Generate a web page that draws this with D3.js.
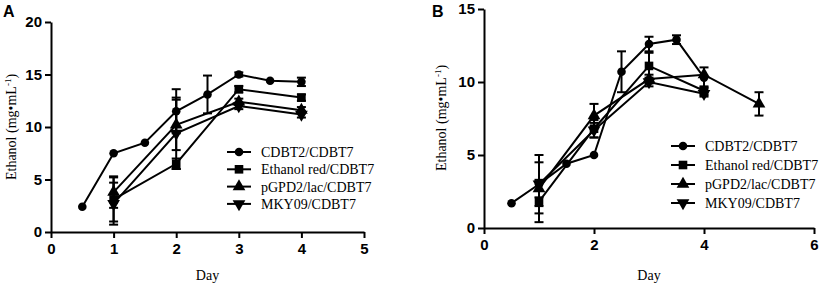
<!DOCTYPE html>
<html>
<head>
<meta charset="utf-8">
<script src="https://cdn.jsdelivr.net/npm/d3@7"></script>
<style>
  body { margin: 0; background: #fff; }
  svg { display: block; }
</style>
</head>
<body>
<div id="chart"></div>
<script>
var width = 829, height = 284;

var seriesNames = ["CDBT2/CDBT7", "Ethanol red/CDBT7", "pGPD2/lac/CDBT7", "MKY09/CDBT7"];
var symbols = ["circle", "square", "triangle", "triangleDown"];

// Panel A
var daysA = [
  [0.5, 1, 1.5, 2, 2.5, 3, 3.5, 4],
  [1, 2, 3, 4],
  [1, 2, 3, 4],
  [1, 2, 3, 4]
];
var valuesA = [
  [2.4, 7.5, 8.5, 11.5, 13.1, 15.0, 14.4, 14.3],
  [3.1, 6.5, 13.6, 12.8],
  [3.8, 10.2, 12.4, 11.6],
  [2.7, 9.4, 12.0, 11.2]
];
var errorsA = [
  [0, 0, 0, 2.1, 1.8, 0.2, 0, 0.4],
  [2.1, 0.5, 0.3, 0.3],
  [1.5, 2.4, 0.3, 0.3],
  [2.0, 3.4, 0.3, 0.3]
];
var xTicksA = [0, 1, 2, 3, 4, 5];
var yTicksA = [0, 5, 10, 15, 20];

// Panel B
var daysB = [
  [0.5, 1, 1.5, 2, 2.5, 3, 3.5, 4],
  [1, 2, 3, 4],
  [1, 2, 3, 4, 5],
  [1, 2, 3, 4]
];
var valuesB = [
  [1.7, 3.0, 4.4, 5.0, 10.7, 12.6, 12.9, 10.3],
  [1.8, 6.8, 11.1, 9.4],
  [2.7, 7.7, 10.2, 10.5, 8.5],
  [3.0, 6.7, 10.0, 9.2]
];
var errorsB = [
  [0, 1.5, 0, 0, 1.4, 0.5, 0.3, 0.7],
  [1.4, 0.6, 0.9, 0.3],
  [0.6, 0.8, 0.3, 0, 0.8],
  [2.0, 0.5, 0.3, 0.2]
];
var xTicksB = [0, 2, 4, 6];
var yTicksB = [0, 5, 10, 15];

var svg = d3.select("#chart")
  .append("svg")
  .attr("width", width)
  .attr("height", height);

function marker(sel, type, x, y) {
  var s = 4.3;
  if (type === "circle") {
    sel.append("circle").attr("cx", x).attr("cy", y).attr("r", s).attr("fill", "#000");
  } else if (type === "square") {
    sel.append("rect").attr("x", x - s).attr("y", y - s).attr("width", 2 * s).attr("height", 2 * s).attr("fill", "#000");
  } else {
    var sym = d3.symbol().type(d3.symbolTriangle).size(70);
    sel.append("path")
      .attr("d", sym())
      .attr("transform", `translate(${x},${y})` + (type === "triangleDown" ? " rotate(180)" : ""))
      .attr("fill", "#000");
  }
}

function styleAxis(ax) {
  ax.selectAll(".domain, .tick line")
    .attr("stroke", "#000")
    .attr("stroke-width", 2);
  ax.selectAll(".tick text")
    .attr("fill", "#000")
    .style("font-family", "Liberation Sans, Arial, sans-serif")
    .style("font-weight", "bold")
    .style("font-size", "15px");
}

function drawPanel(opt) {
  var g = svg.append("g");
  var x = d3.scaleLinear().domain(opt.xDomain).range([opt.left, opt.right]);
  var y = d3.scaleLinear().domain(opt.yDomain).range([opt.bottom, opt.top]);

  var xAx = g.append("g")
    .attr("transform", `translate(0,${opt.bottom})`)
    .call(d3.axisBottom(x).tickValues(opt.xTicks).tickFormat(d3.format("d")).tickSize(6).tickSizeOuter(0).tickPadding(5));
  styleAxis(xAx);

  var yAx = g.append("g")
    .attr("transform", `translate(${opt.left},0)`)
    .call(d3.axisLeft(y).tickValues(opt.yTicks).tickFormat(d3.format("d")).tickSize(6).tickSizeOuter(0).tickPadding(3));
  styleAxis(yAx);

  // error bars
  opt.values.forEach(function(vals, i) {
    vals.forEach(function(v, j) {
      var e = opt.errors[i][j];
      if (!e) return;
      var cx = x(opt.days[i][j]);
      g.append("line")
        .attr("x1", cx).attr("x2", cx)
        .attr("y1", y(v - e)).attr("y2", y(v + e))
        .attr("stroke", "#000").attr("stroke-width", 2);
      [v - e, v + e].forEach(function(c) {
        g.append("line")
          .attr("x1", cx - 4.5).attr("x2", cx + 4.5)
          .attr("y1", y(c)).attr("y2", y(c))
          .attr("stroke", "#000").attr("stroke-width", 2);
      });
    });
  });

  // lines
  var line = d3.line().x(d => x(d[0])).y(d => y(d[1]));
  opt.values.forEach(function(vals, i) {
    var pts = vals.map((v, j) => [opt.days[i][j], v]);
    g.append("path")
      .attr("d", line(pts))
      .attr("fill", "none")
      .attr("stroke", "#000")
      .attr("stroke-width", 2);
    pts.forEach(function(p) {
      marker(g, symbols[i], x(p[0]), y(p[1]));
    });
  });

  // axis titles
  g.append("text")
    .attr("x", (opt.left + opt.right) / 2)
    .attr("y", 280)
    .attr("text-anchor", "middle")
    .style("font-family", "Liberation Serif, Times New Roman, serif")
    .style("font-size", "14px")
    .text("Day");

  var yl = g.append("text")
    .attr("transform", `translate(${opt.yLabelX},${opt.yLabelY}) rotate(-90)`)
    .attr("text-anchor", "middle")
    .style("font-family", "Liberation Serif, Times New Roman, serif")
    .style("font-size", "14px");
  yl.append("tspan").text("Ethanol (mg\u2022mL");
  yl.append("tspan").attr("dy", -5).style("font-size", "9px").text("-1");
  yl.append("tspan").attr("dy", 5).text(")");

  // panel letter
  g.append("text")
    .attr("x", opt.letterX)
    .attr("y", 17)
    .style("font-family", "Liberation Sans, Arial, sans-serif")
    .style("font-weight", "bold")
    .style("font-size", "16px")
    .text(opt.letter);

  // legend
  seriesNames.forEach(function(name, i) {
    var ly = opt.legendY + i * opt.legendStep;
    g.append("line")
      .attr("x1", opt.legendX).attr("x2", opt.legendX + 24)
      .attr("y1", ly).attr("y2", ly)
      .attr("stroke", "#000").attr("stroke-width", 2);
    marker(g, symbols[i], opt.legendX + 12, ly);
    g.append("text")
      .attr("x", opt.legendX + 34)
      .attr("y", ly + 5)
      .style("font-family", "Liberation Serif, Times New Roman, serif")
      .style("font-size", "14px")
      .text(name);
  });
}

drawPanel({
  letter: "A", letterX: 3,
  left: 51, right: 364, top: 22, bottom: 232,
  xDomain: [0, 5], yDomain: [0, 20],
  xTicks: xTicksA, yTicks: yTicksA,
  days: daysA, values: valuesA, errors: errorsA,
  yLabelX: 16, yLabelY: 127,
  legendX: 227, legendY: 152, legendStep: 17.3
});

drawPanel({
  letter: "B", letterX: 432,
  left: 484, right: 814, top: 9, bottom: 228,
  xDomain: [0, 6], yDomain: [0, 15],
  xTicks: xTicksB, yTicks: yTicksB,
  days: daysB, values: valuesB, errors: errorsB,
  yLabelX: 446, yLabelY: 118,
  legendX: 671, legendY: 146, legendStep: 19
});
</script>
</body>
</html>
